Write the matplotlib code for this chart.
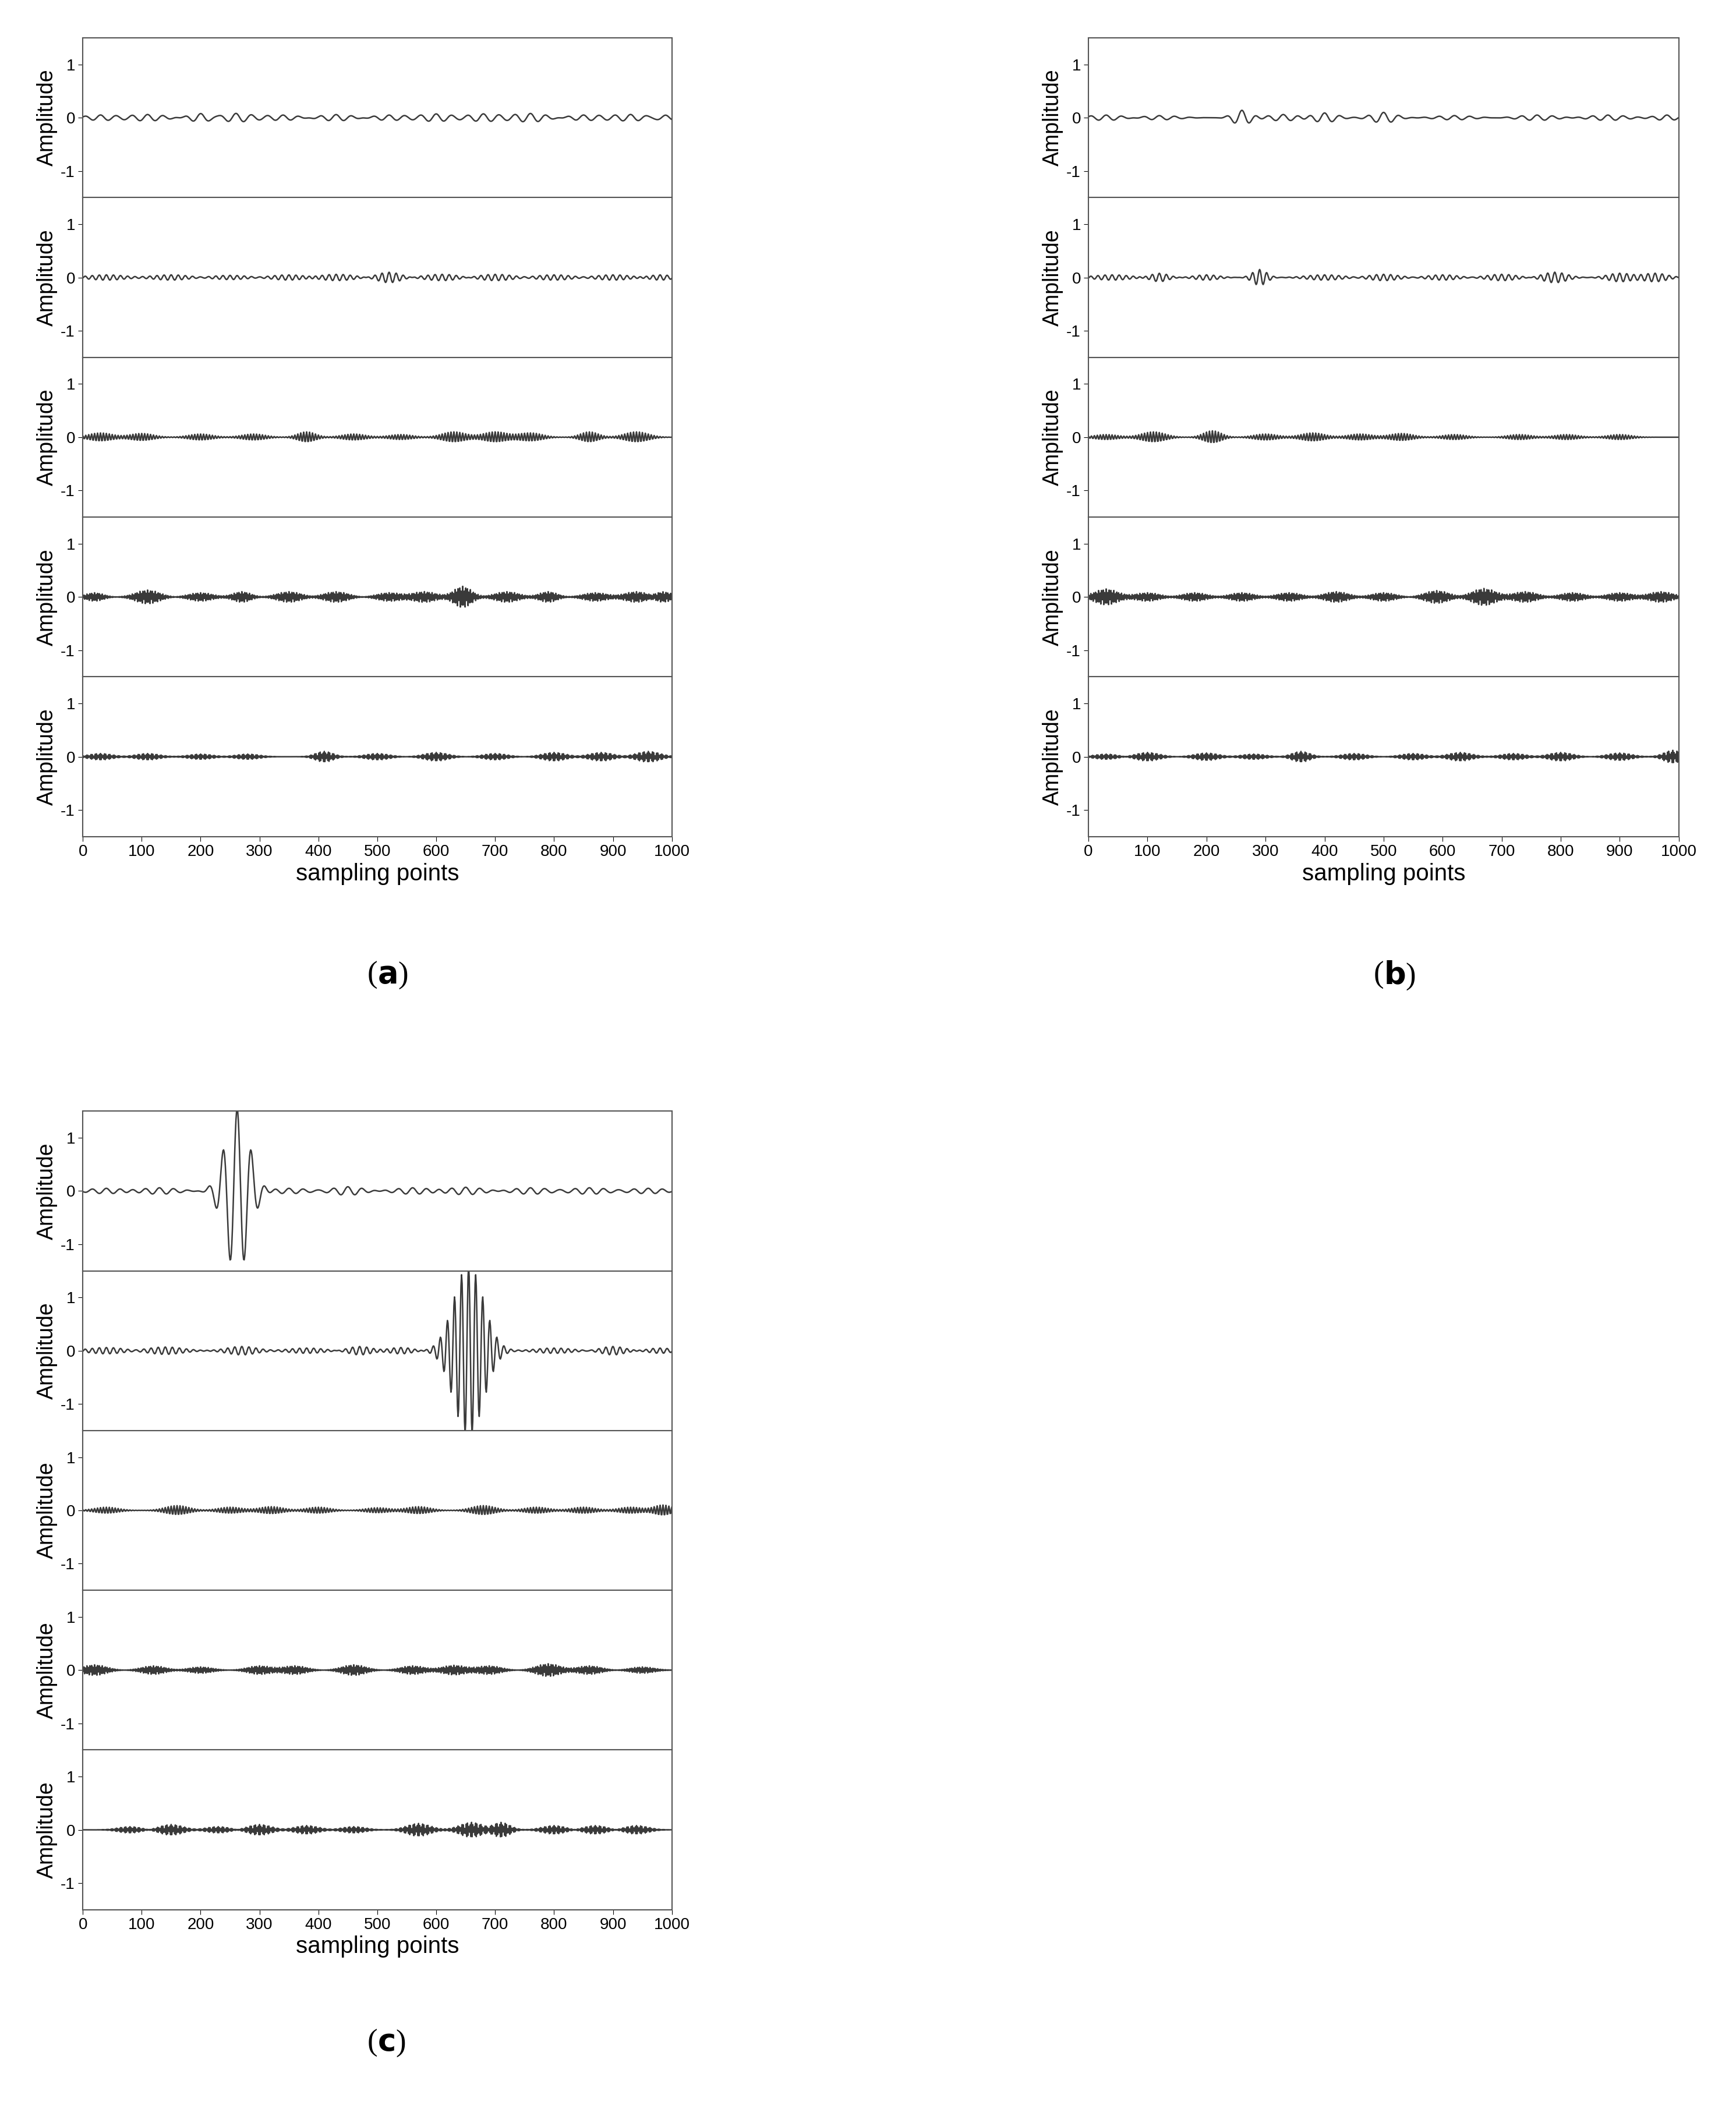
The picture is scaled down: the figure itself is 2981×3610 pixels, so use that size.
import numpy as np
import matplotlib
matplotlib.use("Agg")
import matplotlib.pyplot as plt

plt.rcParams['font.family'] = ['Liberation Sans', 'DejaVu Sans']

x = np.arange(0, 1001)

# Wave-packet descriptions: (center, amplitude, width) per row,
# plus the dominant period of each row.
periods = [26, 12, 5, 2.6, 2.3]

a_packets = [
    [(30,.05,25),(110,.06,30),(200,.08,20),(260,.08,25),(340,.05,30),(430,.06,30),(520,.05,30),(600,.07,25),(680,.07,25),(760,.08,30),(850,.05,30),(930,.06,30),(990,.05,20)],
    [(40,.05,30),(150,.05,30),(250,.04,30),(350,.05,30),(430,.06,30),(520,.1,20),(610,.06,30),(700,.06,30),(800,.05,30),(900,.05,30),(980,.05,20)],
    [(30,.08,20),(100,.07,20),(200,.06,20),(290,.06,20),(380,.1,15),(460,.06,20),(540,.05,20),(630,.1,20),(700,.1,20),(760,.08,20),(860,.1,15),(940,.1,20)],
    [(20,.08,15),(110,.13,20),(200,.08,20),(270,.1,15),(350,.1,20),(430,.1,20),(520,.08,20),(580,.1,20),(645,.2,15),(720,.1,20),(790,.1,15),(870,.08,20),(940,.1,20),(985,.1,15)],
    [(30,.06,20),(110,.06,20),(200,.05,20),(280,.05,20),(410,.1,15),(500,.06,20),(600,.08,20),(700,.06,20),(800,.08,20),(880,.08,20),(960,.1,20)],
]
b_packets = [
    [(30,.05,30),(120,.04,30),(260,.14,15),(330,.06,25),(400,.09,20),(500,.1,20),(620,.04,30),(760,.05,30),(880,.05,30),(980,.05,20)],
    [(40,.05,30),(120,.08,15),(200,.05,20),(290,.15,12),(400,.05,30),(500,.06,25),(600,.05,25),(700,.06,25),(790,.1,20),(900,.08,20),(960,.08,20)],
    [(30,.05,20),(110,.1,20),(210,.12,15),(300,.06,20),(380,.08,20),(460,.06,20),(530,.07,20),(620,.05,20),(730,.05,20),(810,.05,20),(900,.05,20)],
    [(30,.15,20),(100,.08,20),(180,.08,20),(260,.08,20),(340,.08,20),(420,.1,20),(500,.08,20),(590,.12,20),(670,.16,20),(740,.1,20),(820,.08,20),(900,.08,20),(970,.1,20)],
    [(30,.05,20),(100,.08,20),(200,.07,20),(280,.05,20),(360,.1,15),(450,.06,20),(550,.06,20),(630,.08,20),(720,.06,20),(800,.08,20),(900,.07,20),(990,.12,15)],
]
c_packets = [
    [(40,.05,30),(130,.06,30),(262,1.55,20),(350,.05,30),(450,.08,25),(560,.06,30),(650,.07,30),(760,.06,30),(860,.06,30),(960,.05,30)],
    [(40,.06,30),(140,.07,30),(270,.08,25),(380,.05,30),(470,.08,20),(540,.06,20),(655,1.6,25),(800,.05,30),(900,.08,20),(980,.05,20)],
    [(40,.06,20),(160,.09,20),(250,.06,20),(320,.07,20),(400,.06,20),(500,.05,20),(570,.07,20),(680,.09,20),(770,.06,20),(850,.06,20),(930,.06,20),(985,.1,15)],
    [(20,.1,20),(120,.08,20),(200,.06,20),(300,.08,20),(360,.08,20),(460,.1,20),(560,.08,20),(630,.09,20),(690,.08,20),(790,.12,20),(860,.08,20),(950,.06,20)],
    [(80,.06,20),(150,.1,20),(230,.06,20),(300,.1,20),(380,.08,20),(460,.06,20),(570,.12,20),(660,.14,20),(710,.14,15),(800,.08,20),(870,.08,20),(940,.08,20)],
]
c_periods = [24, 12, 5, 2.6, 2.3]

def build(packets, period):
    y = np.zeros_like(x, dtype=float)
    for c, a, s in packets:
        y += a * np.exp(-0.5 * ((x - c) / s) ** 2) * np.cos(2 * np.pi * (x - c) / period)
    return y

xticks = list(range(0, 1001, 100))

W, H = 2981, 3610
fig = plt.figure(figsize=(W / 100, H / 100), dpi=100)

def panel(left, right, top, bottom, packets, pers, label, label_y):
    n = 5
    h = (top - bottom) / n
    for i in range(n):
        ax = fig.add_axes([left, top - (i + 1) * h, right - left, h])
        ax.plot(x, build(packets[i], pers[i]), color="#3a3a3a", lw=1.8)
        ax.set_xlim(0, 1000)
        ax.set_ylim(-1.5, 1.5)
        ax.set_yticks([-1, 0, 1])
        ax.set_yticklabels(["-1", "0", "1"])
        ax.set_ylabel("Amplitude", fontsize=27)
        ax.tick_params(labelsize=20, length=6, direction="out")
        for sp in ax.spines.values():
            sp.set_color("#555")
            sp.set_linewidth(1.5)
        ax.set_xticks(xticks)
        if i < n - 1:
            ax.tick_params(axis="x", labelbottom=False, length=0)
        else:
            ax.set_xlabel("sampling points", fontsize=29)
    fig.text((left + right) / 2, label_y, "(", ha="right", va="center",
             fontsize=38, family="Liberation Serif")
    fig.text((left + right) / 2, label_y, r"$\mathbf{" + label + "}$)", ha="left",
             va="center", fontsize=38, family="Liberation Serif")

panel(0.0477, 0.387, 0.982, 0.602, a_packets, periods, "a", 0.536)
panel(0.627, 0.967, 0.982, 0.602, b_packets, periods, "b", 0.536)
panel(0.0477, 0.387, 0.4714, 0.0915, c_packets, c_periods, "c", 0.028)

fig.savefig("out.png", dpi=100)
